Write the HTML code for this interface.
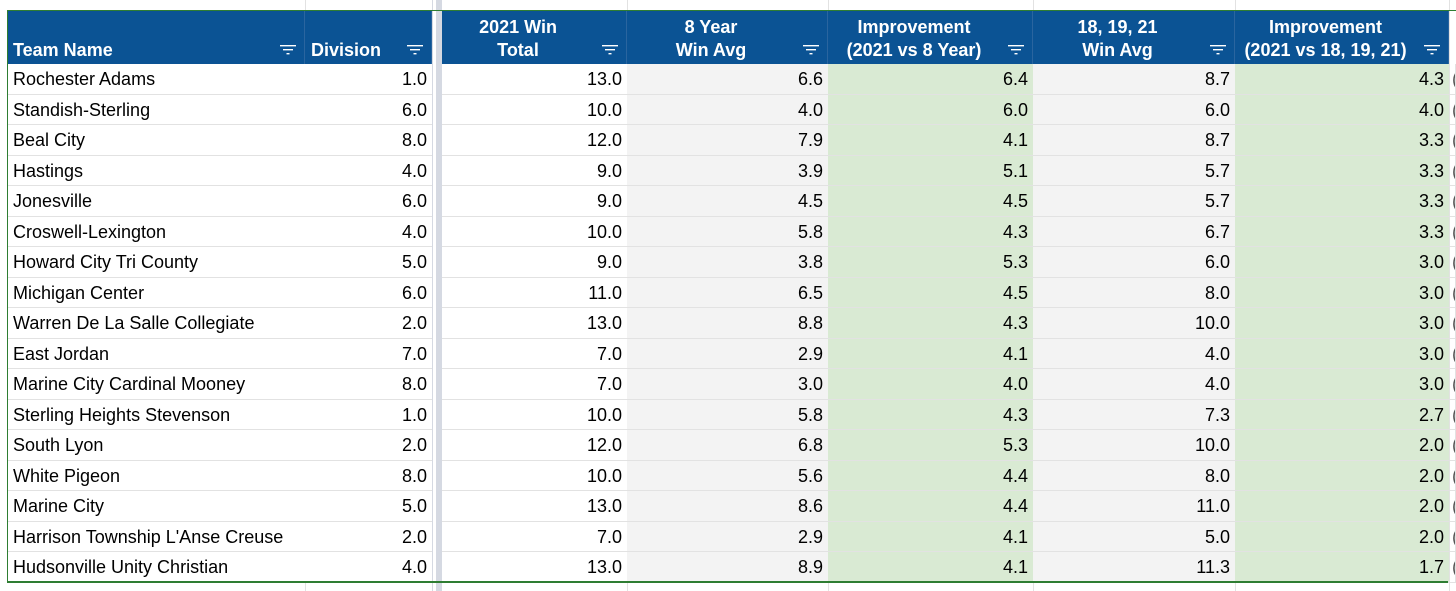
<!DOCTYPE html>
<html><head><meta charset="utf-8"><style>
body{margin:0;width:1456px;height:591px;overflow:hidden;background:#fff;font-family:"Liberation Sans",sans-serif;position:relative}
.v{position:absolute;top:0;height:591px;width:1px;background:#e2e2e2}
.hd{position:absolute;top:11px;height:53px;background:#0b5394;color:#fff;font-weight:bold;font-size:18px;line-height:23px;box-sizing:border-box;border-right:1px solid #2a659f}
.hd span{position:absolute;bottom:2px}
.flt{position:absolute;bottom:9px;right:8px;width:16px;height:10px}
.c{position:absolute;height:30px;box-sizing:border-box;font-size:18px;line-height:31px;border-bottom:1px solid #e2e2e2;border-right:1px solid #e2e2e2;color:#000;padding:0 5px;white-space:nowrap;overflow:hidden}
</style></head><body>
<div id="t"></div>
<div style="position:absolute;left:432px;top:0;width:10px;height:591px;background:#d5d9e2;z-index:5"></div>
<div style="position:absolute;left:433px;top:0;width:3px;height:591px;background:#fff;z-index:5"></div>
<div style="position:absolute;left:7px;top:10px;width:1449px;height:1px;background:#2e7d32;z-index:6"></div>
<div style="position:absolute;left:7px;top:581px;width:1441px;height:2px;background:#2e7d32;z-index:6"></div>
<div style="position:absolute;left:7px;top:10px;width:1px;height:573px;background:#2e7d32;z-index:6"></div>
<script>
const teams=["Rochester Adams","Standish-Sterling","Beal City","Hastings","Jonesville","Croswell-Lexington","Howard City Tri County","Michigan Center","Warren De La Salle Collegiate","East Jordan","Marine City Cardinal Mooney","Sterling Heights Stevenson","South Lyon","White Pigeon","Marine City","Harrison Township L'Anse Creuse","Hudsonville Unity Christian"];
const division=[1,6,8,4,6,4,5,6,2,7,8,1,2,8,5,2,4];
const win2021=[13,10,12,9,9,10,9,11,13,7,7,10,12,10,13,7,13];
const avg8=[6.6,4.0,7.9,3.9,4.5,5.8,3.8,6.5,8.8,2.9,3.0,5.8,6.8,5.6,8.6,2.9,8.9];
const imp8=[6.4,6.0,4.1,5.1,4.5,4.3,5.3,4.5,4.3,4.1,4.0,4.3,5.3,4.4,4.4,4.1,4.1];
const avg3=[8.7,6.0,8.7,5.7,5.7,6.7,6.0,8.0,10.0,4.0,4.0,7.3,10.0,8.0,11.0,5.0,11.3];
const imp3=[4.3,4.0,3.3,3.3,3.3,3.3,3.0,3.0,3.0,3.0,3.0,2.7,2.0,2.0,2.0,2.0,1.7];
const headers=[["","Team Name"],["","Division"],["2021 Win","Total"],["8 Year","Win Avg"],["Improvement","(2021 vs 8 Year)"],["18, 19, 21","Win Avg"],["Improvement","(2021 vs 18, 19, 21)"]];
const colX=[7,305,442,627,828,1033,1235,1449];
const colEnd=[305,432,627,828,1033,1235,1449];
const fills=["#fff","#fff","#fff","#f3f3f3","#d9ead3","#f3f3f3","#d9ead3"];
const names=["team-name","division","win-total-2021","eight-year-avg","improvement-8yr","three-year-avg","improvement-3yr"];
const t=document.getElementById('t');
[305,627,828,1033,1235,1449].forEach(x=>{const d=document.createElement('div');d.className='v';d.style.left=x+'px';


document.body.insertBefore(d,t);});
headers.forEach((h,i)=>{const d=document.createElement('div');d.className='hd';d.style.left=colX[i]+'px';d.style.width=(colEnd[i]-colX[i])+'px';


const s=document.createElement('span');
if(i<2){s.style.left='6px';s.textContent=h[1];}else{s.style.left='0';s.style.right='32px';s.style.textAlign='center';s.innerHTML=h[0]+'<br>'+h[1];}
d.appendChild(s);
const f=document.createElementNS('http://www.w3.org/2000/svg','svg');f.setAttribute('class','flt');f.setAttribute('viewBox','0 0 16 10');
f.innerHTML='<rect x="0" y="0" width="16" height="1.4" fill="#fff"/><rect x="3" y="4" width="10" height="1.4" fill="#fff"/><rect x="6.5" y="8" width="3" height="1.4" fill="#fff"/>';


d.appendChild(f);t.appendChild(d);});
const cols=[teams,division.map(v=>v.toFixed(1)),win2021.map(v=>v.toFixed(1)),avg8.map(v=>v.toFixed(1)),imp8.map(v=>v.toFixed(1)),avg3.map(v=>v.toFixed(1)),imp3.map(v=>v.toFixed(1))];
teams.forEach((_,r)=>{const top=64+r*30.5;
cols.forEach((col,i)=>{const d=document.createElement('div');d.className='c';
d.style.left=colX[i]+'px';d.style.width=(colEnd[i]-colX[i]+1)+'px';d.style.top=top+'px';d.style.height='30.5px';
d.style.background=fills[i];d.style.textAlign=i==0?'left':'right';
if(i==0)d.style.paddingLeft='6px';
d.textContent=col[r];


t.appendChild(d);});
const p=document.createElement('div');p.className='c';p.style.left='1450px';p.style.width='6px';p.style.top=top+'px';p.style.height='30.5px';p.style.padding='0';p.style.paddingLeft='2px';p.style.color='#555';p.textContent='(';


t.appendChild(p);});
</script>
</body></html>
